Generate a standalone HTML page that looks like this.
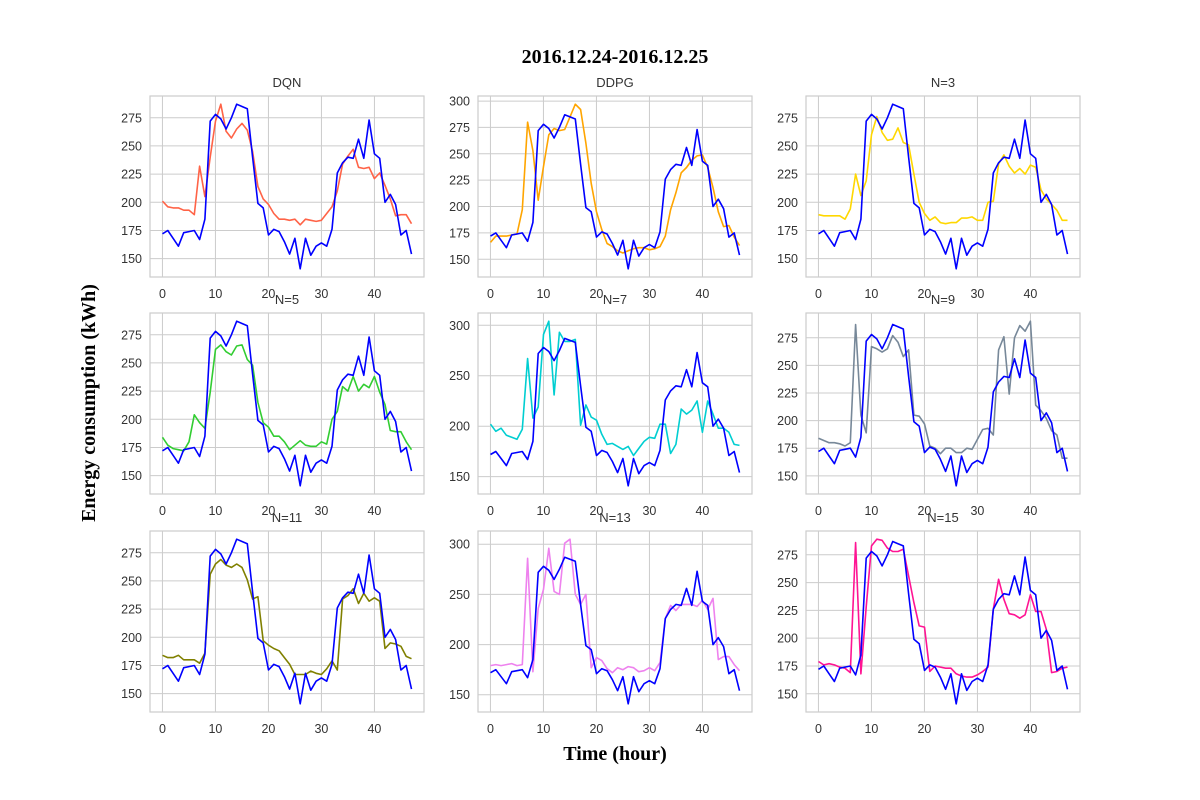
<!DOCTYPE html>
<html><head><meta charset="utf-8"><style>
body{margin:0;background:#fff;}
svg{display:block;}
text{font-family:"Liberation Sans","DejaVu Sans",sans-serif;}
</style></head><body>
<svg id="chart" width="1200" height="800" xmlns="http://www.w3.org/2000/svg">
<rect width="1200" height="800" fill="#fff"/>
<text x="615" y="63" text-anchor="middle" font-size="20" font-weight="bold" style="font-family:'Liberation Serif',serif">2016.12.24-2016.12.25</text>
<text transform="translate(95,403) rotate(-90)" text-anchor="middle" font-size="20" font-weight="bold" style="font-family:'Liberation Serif',serif">Energy consumption (kWh)</text>
<text x="615" y="760" text-anchor="middle" font-size="20" font-weight="bold" style="font-family:'Liberation Serif',serif">Time (hour)</text>
<g id="panels"></g>
</svg>
<script>
const hours = Array.from({length:48},(_, i)=>i);
const actual = [172,175,168,161,173,174,175,167,185,272,278,274,265,275,287,285,283,240,199,195,171,176,174,165,154,168,141,168,153,161,164,161,176,226,235,240,239,256,239,273,243,239,200,207,198,171,175,154];
const dqn = [201,196,195,195,193,193,189,232,205,240,272,287,263,257,265,270,264,245,214,203,198,190,185,185,184,185,180,185,184,183,184,190,196,210,234,241,247,231,230,231,221,226,215,203,188,189,189,181];
const ddpg = [166,172,172,172,173,174,197,280,253,206,238,268,274,272,273,285,297,292,260,222,195,178,165,162,158,156,158,160,161,161,159,160,162,172,197,213,232,237,244,248,249,237,218,195,181,182,171,163];
const n3 = [189,188,188,188,188,185,194,225,206,219,260,276,262,255,256,266,253,251,225,200,190,184,187,182,181,182,182,186,186,187,184,184,200,201,234,242,232,226,230,225,233,231,211,203,198,193,184,184];
const n5 = [184,177,174,173,172,180,204,197,192,224,262,266,260,257,265,266,253,248,215,197,193,185,185,180,173,177,181,177,176,176,180,178,200,207,229,225,238,225,231,228,238,224,213,190,189,189,180,173];
const n7 = [202,195,198,191,189,187,197,267,208,219,291,304,231,293,284,284,286,201,221,209,206,192,182,183,180,177,180,171,178,185,189,188,202,202,173,182,217,212,216,225,194,225,212,198,198,194,182,181];
const n9 = [184,182,180,180,179,177,180,287,205,189,267,265,262,265,277,271,258,264,205,204,197,177,175,170,175,175,171,171,175,174,183,192,193,187,264,276,224,275,286,281,290,214,209,202,191,187,166,166];
const n11 = [184,182,182,184,180,180,180,177,186,256,265,269,264,262,265,262,251,234,236,197,193,190,188,182,176,167,167,167,170,168,167,172,179,171,234,237,243,230,239,232,235,232,190,195,194,192,183,181];
const n13 = [179,180,179,180,181,179,180,286,173,236,255,296,253,250,301,305,250,240,250,177,187,184,176,172,177,175,178,177,173,174,177,174,182,226,239,234,240,240,240,238,244,235,246,185,188,188,180,174];
const n15 = [179,176,177,176,174,173,169,286,168,228,283,289,288,281,278,278,280,256,232,211,210,170,175,174,173,173,168,166,165,165,167,170,174,226,253,235,222,221,218,221,239,224,224,208,169,170,173,174];
const panelTitles = ["DQN","DDPG","N=3","N=5","N=7","N=9","N=11","N=13","N=15"];
const panelSeries = [dqn,ddpg,n3,n5,n7,n9,n11,n13,n15];
const panelColors = ["#ff6347","#ffa500","#ffd700","#32cd32","#00ced1","#778899","#808000","#ee82ee","#ff1493"];
const panelTickSteps = [25,25,25,25,50,25,25,50,25];
const xTicks = [0,10,20,30,40];

const NS="http://www.w3.org/2000/svg";
const root=document.getElementById('panels');
function mk(tag,attrs,parent){const e=document.createElementNS(NS,tag);for(const k in attrs)e.setAttribute(k,attrs[k]);parent.appendChild(e);return e;}
const colX=[150,478,806], rowY=[96,313,531], W=274, H=181;
panelTitles.forEach((title,p)=>{
  const x0=colX[p%3], y0=rowY[Math.floor(p/3)];
  const g=mk('g',{},root);
  
  
  const series=panelSeries[p];
  const all=actual.concat(series);
  const mn=Math.min(...all), mx=Math.max(...all), pad=(mx-mn)*0.05;
  const ylo=mn-pad, yhi=mx+pad;
  const xlo=-2.35, xhi=49.35;
  const sx=v=>x0+(v-xlo)/(xhi-xlo)*W;
  const sy=v=>y0+H-(v-ylo)/(yhi-ylo)*H;
  const step=panelTickSteps[p];
  for(let t=Math.ceil(ylo/step)*step;t<=yhi;t+=step){
    const l=mk('line',{x1:x0,x2:x0+W,y1:sy(t),y2:sy(t),stroke:'#cccccc','stroke-width':1},g);
    
    
    const tx=mk('text',{x:x0-8,y:sy(t)+4.5,'text-anchor':'end','font-size':12.5,fill:'#333'},g);
    
    
    tx.textContent=t;
  }
  xTicks.forEach(t=>{
    const l=mk('line',{x1:sx(t),x2:sx(t),y1:y0,y2:y0+H,stroke:'#cccccc','stroke-width':1},g);
    
    
    const tx=mk('text',{x:sx(t),y:y0+H+21,'text-anchor':'middle','font-size':12.5,fill:'#333'},g);
    
    
    tx.textContent=t;
  });
  const fr=mk('rect',{x:x0,y:y0,width:W,height:H,fill:'none',stroke:'#cccccc','stroke-width':1.2},g);
  
  
  const tt=mk('text',{x:x0+W/2,y:y0-9,'text-anchor':'middle','font-size':13,fill:'#333'},g);
  
  
  tt.textContent=title;
  const pts=s=>s.map((v,i)=>sx(hours[i]).toFixed(1)+','+sy(v).toFixed(1)).join(' ');
  const pl=mk('polyline',{points:pts(series),fill:'none',stroke:panelColors[p],'stroke-width':1.6,'stroke-linejoin':'round'},g);
  
  
  const al=mk('polyline',{points:pts(actual),fill:'none',stroke:'#0000ff','stroke-width':1.6,'stroke-linejoin':'round'},g);
  
  
});
</script>
</body></html>
